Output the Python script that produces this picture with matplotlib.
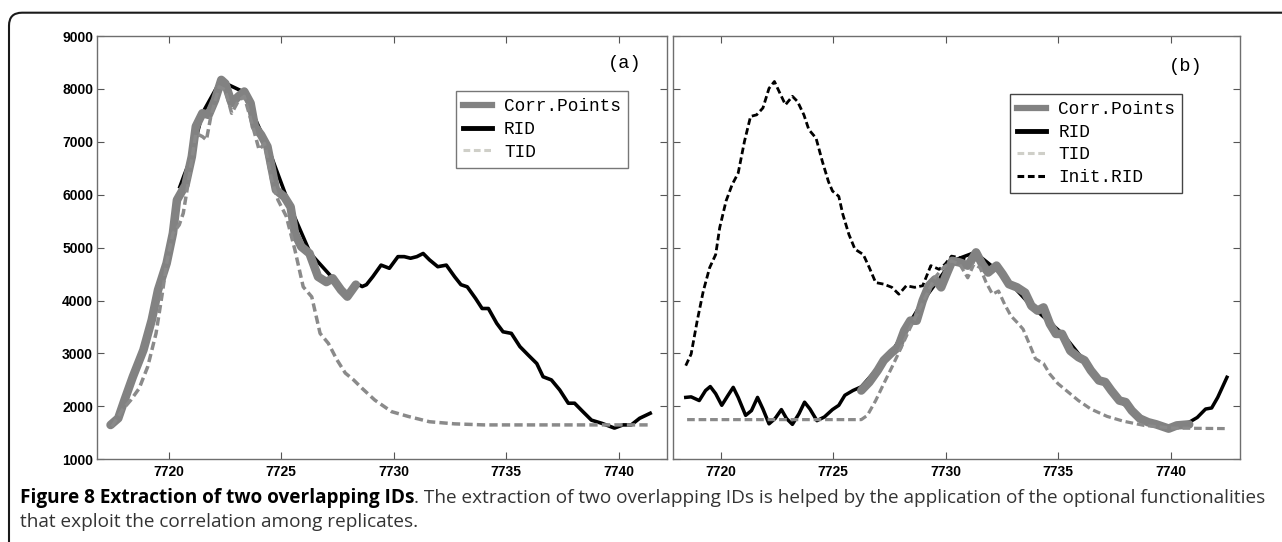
import numpy as np
import matplotlib
matplotlib.use('Agg')
import matplotlib.pyplot as plt
from matplotlib.lines import Line2D
from matplotlib.patches import FancyBboxPatch
from matplotlib.transforms import IdentityTransform


#### #### #### #### #### #### #### #### #### #### #### #### #### #### ####
#### DATA

# panel (a)
cp_a_x = [7717.42, 7717.76, 7718.04, 7718.41, 7718.88, 7719.25, 7719.53, 7719.91, 7720.19, 7720.37,
          7720.75, 7721.03, 7721.21, 7721.5, 7721.78, 7722.06, 7722.34, 7722.52, 7722.8, 7723.08,
          7723.36, 7723.64, 7723.83, 7724.11, 7724.39, 7724.77, 7725.14, 7725.42, 7725.61, 7725.89,
          7726.26, 7726.64, 7727.01, 7727.29, 7727.66, 7727.94, 7728.32]
cp_a_y = [1649, 1775, 2120, 2560, 3066, 3633, 4200, 4704, 5270, 5900,
          6185, 6720, 7290, 7540, 7510, 7790, 8170, 8100, 7730, 7850,
          7950, 7730, 7290, 7130, 6910, 6090, 5960, 5770, 5270, 5020,
          4890, 4450, 4350, 4420, 4200, 4075, 4300]

rid_a_x = [7720.5, 7720.7, 7721.0, 7721.5, 7722.3, 7723.3, 7724.4, 7725.4, 7726.3, 7727.3,
           7727.94, 7728.32, 7728.6, 7728.79, 7729.07, 7729.44, 7729.81, 7730.19, 7730.47, 7730.75,
           7731.03, 7731.31, 7731.59, 7731.96, 7732.34, 7732.71, 7732.99, 7733.27, 7733.64, 7733.93,
           7734.21, 7734.58, 7734.86, 7735.23, 7735.61, 7735.98, 7736.36, 7736.64, 7737.01, 7737.38,
           7737.76, 7738.04, 7738.41, 7738.79, 7739.25, 7739.81, 7740.19, 7740.56, 7740.93, 7741.4]
rid_a_y = [6150, 6380, 6700, 7540, 8150, 7950, 6910, 5770, 4890, 4420,
           4075, 4330, 4265, 4300, 4450, 4670, 4610, 4830, 4830, 4800,
           4830, 4890, 4770, 4640, 4670, 4450, 4300, 4260, 4040, 3850,
           3850, 3570, 3410, 3380, 3130, 2970, 2810, 2560, 2500, 2310,
           2060, 2060, 1900, 1740, 1680, 1590, 1650, 1650, 1775, 1870]

tid_a_x = [7717.48, 7717.94, 7718.32, 7718.69, 7719.07, 7719.44, 7719.72, 7719.91, 7720.19, 7720.47,
           7720.65, 7720.84, 7721.21, 7721.5, 7721.68, 7721.87, 7722.24, 7722.52, 7722.8, 7723.08,
           7723.36, 7723.74, 7724.02, 7724.26, 7724.58, 7724.86, 7725.23, 7725.61, 7725.98, 7726.36,
           7726.73, 7727.1, 7727.48, 7727.85, 7728.22, 7728.6, 7729.16, 7729.91, 7730.65, 7731.59,
           7732.71, 7734.02, 7741.4]
tid_a_y = [1620, 1930, 2120, 2340, 2750, 3380, 4140, 4700, 5270, 5430,
           5650, 6150, 7160, 7100, 7035, 7470, 8040, 7980, 7540, 7760,
           7860, 7290, 6850, 6970, 6280, 5900, 5590, 4960, 4260, 4070,
           3380, 3190, 2880, 2630, 2500, 2340, 2120, 1900, 1810, 1710,
           1670, 1650, 1650]

# panel (b)
init_b_x = [7718.45, 7718.69, 7718.96, 7719.23, 7719.51, 7719.78, 7719.96, 7720.24, 7720.51, 7720.78,
            7721.06, 7721.33, 7721.6, 7721.88, 7722.15, 7722.39, 7722.6, 7722.88, 7723.19, 7723.42,
            7723.7, 7723.92, 7724.24, 7724.52, 7724.79, 7724.97, 7725.25, 7725.43, 7725.7, 7725.97,
            7726.34, 7726.61, 7726.89, 7727.25, 7727.61, 7727.92, 7728.25, 7728.62, 7728.98, 7729.34,
            7729.71, 7729.98, 7730.26, 7730.62, 7730.98, 7731.35, 7731.71, 7732.0]
init_b_y = [2770, 2990, 3620, 4180, 4620, 4870, 5380, 5880, 6190, 6410,
            7010, 7480, 7510, 7640, 8010, 8140, 7950, 7700, 7860, 7760,
            7510, 7230, 7070, 6630, 6250, 6070, 5970, 5630, 5250, 4970,
            4870, 4620, 4340, 4310, 4250, 4120, 4280, 4250, 4280, 4660,
            4590, 4690, 4840, 4810, 4780, 4870, 4720, 4600]

rid_b_x = [7718.45, 7718.69, 7719.05, 7719.33, 7719.54, 7719.78, 7720.05, 7720.33, 7720.56, 7720.78,
           7721.11, 7721.37, 7721.64, 7721.88, 7722.15, 7722.42, 7722.7, 7722.93, 7723.19, 7723.48,
           7723.73, 7723.97, 7724.28, 7724.61, 7724.97, 7725.25, 7725.52, 7725.88, 7726.25, 7727.6,
           7729.0, 7730.3, 7731.3, 7732.5, 7733.8, 7735.2, 7736.5, 7737.7, 7739.0, 7739.9,
           7740.82, 7741.18, 7741.55, 7741.82, 7742.09, 7742.5]
rid_b_y = [2170, 2180, 2110, 2300, 2375, 2240, 2020, 2210, 2360, 2170,
           1830, 1920, 2170, 1950, 1670, 1770, 1940, 1770, 1660, 1860,
           2080, 1950, 1730, 1800, 1940, 2020, 2210, 2300, 2370, 3020,
           4000, 4750, 4910, 4500, 3900, 3370, 2680, 2110, 1700, 1580,
           1700, 1790, 1950, 1970, 2170, 2550]

cp_b_x = [7726.25, 7726.61, 7726.98, 7727.25, 7727.61, 7727.89, 7728.16, 7728.43, 7728.71, 7728.98,
          7729.25, 7729.53, 7729.8, 7730.07, 7730.29, 7730.62, 7730.98, 7731.17, 7731.35, 7731.62,
          7731.89, 7732.26, 7732.53, 7732.81, 7733.17, 7733.53, 7733.81, 7734.08, 7734.35, 7734.63,
          7734.9, 7735.17, 7735.54, 7735.9, 7736.17, 7736.45, 7736.81, 7737.09, 7737.36, 7737.72,
          7738.0, 7738.27, 7738.63, 7739.0, 7739.36, 7739.91, 7740.27, 7740.82]
cp_b_y = [2300, 2460, 2680, 2870, 3020, 3120, 3430, 3620, 3620, 4000,
          4280, 4400, 4250, 4530, 4750, 4720, 4660, 4780, 4910, 4690,
          4530, 4660, 4500, 4310, 4250, 4150, 3900, 3810, 3870, 3560,
          3370, 3370, 3050, 2930, 2870, 2680, 2490, 2460, 2300, 2110,
          2080, 1920, 1770, 1700, 1660, 1580, 1640, 1660]

tid_b_x = [7718.51, 7726.25, 7726.52, 7726.89, 7727.25, 7727.61, 7727.89, 7728.16, 7728.43, 7728.8,
           7729.16, 7729.53, 7729.89, 7730.26, 7730.62, 7730.98, 7731.26, 7731.53, 7731.8, 7732.08,
           7732.35, 7732.62, 7732.9, 7733.17, 7733.44, 7733.72, 7733.99, 7734.35, 7734.63, 7734.99,
           7735.36, 7735.9, 7736.45, 7737.18, 7737.9, 7738.82, 7740.09, 7742.5]
tid_b_y = [1750, 1750, 1830, 2110, 2430, 2740, 2990, 3240, 3490, 3800,
           4120, 4440, 4620, 4750, 4690, 4430, 4690, 4620, 4340, 4120,
           4180, 3930, 3710, 3590, 3460, 3180, 2900, 2810, 2610, 2430,
           2300, 2110, 1950, 1810, 1720, 1640, 1590, 1580]

x_ticks = [7720, 7725, 7730, 7735, 7740]
y_ticks = [1000, 2000, 3000, 4000, 5000, 6000, 7000, 8000, 9000]

caption_bold = 'Figure 8 Extraction of two overlapping IDs'
caption_rest = '. The extraction of two overlapping IDs is helped by the application of the optional functionalities'
caption_line2 = 'that exploit the correlation among replicates.'


#### #### #### #### #### #### #### #### #### #### #### #### #### #### ####
#### STYLE

plt.rcParams['font.family'] = ['Liberation Sans', 'DejaVu Sans']
plt.rcParams['xtick.direction'] = 'in'
plt.rcParams['ytick.direction'] = 'in'

c_cp = '#828282'
c_tid = '#8a8a8a'
c_tid_leg = '#cfcfc8'
mono = 'Liberation Mono'
dash = (0, (2.4, 1.2))

W, H = 1282, 542
fg = plt.figure(figsize=(W/100., H/100.), dpi=100)

# rounded frame around the whole figure
frame = FancyBboxPatch((9, -40), 1320, H - 12.7 + 40, boxstyle='round,pad=0,rounding_size=13',
                       transform=IdentityTransform(), fill=False, edgecolor='#1a1a1a', linewidth=1.5)
fg.patches.append(frame)


def setup_axes(ax, xlim, labels_y):
	ax.set_xlim(xlim)
	ax.set_ylim(1000, 9000)
	ax.set_xticks(x_ticks)
	ax.set_yticks(y_ticks)
	ax.tick_params(top=True, right=True, length=5, width=0.8, color='#555555', pad=4)
	ax.tick_params(axis='y', pad=3)
	for s in ax.spines.values():
		s.set_color('#6e6e6e')
		s.set_linewidth(1.0)
	for t in ax.get_xticklabels() + ax.get_yticklabels():
		t.set_fontweight('bold')
		t.set_fontsize(10)
	if not labels_y:
		ax.set_yticklabels([])


#### #### #### #### #### #### #### #### #### #### #### #### #### #### ####
#### PANEL (a)

ax1 = fg.add_axes([97.3/W, 1 - 459.3/H, 570./W, 423.3/H])

ax1.plot(rid_a_x, rid_a_y, color='k', linewidth=2.6, zorder=2)
ax1.plot(cp_a_x, cp_a_y, color=c_cp, linewidth=6.2, solid_capstyle='round', solid_joinstyle='round', zorder=3)
ax1.plot(tid_a_x, tid_a_y, color=c_tid, linewidth=2.5, ls=dash, zorder=4)

setup_axes(ax1, (7716.83, 7742.16), True)
ax1.text(0.926, 0.936, '(a)', transform=ax1.transAxes, family=mono, fontsize=13.5,
         ha='center', va='center')

h1 = [Line2D([], [], color=c_cp, lw=4.5),
      Line2D([], [], color='k', lw=3.5),
      Line2D([], [], color=c_tid_leg, lw=2.2, ls=(0, (2.2, 1.2)))]
leg = ax1.legend(h1, ['Corr.Points', 'RID', 'TID'], loc='upper right', bbox_to_anchor=(0.931, 0.870),
                 borderaxespad=0, fancybox=False, edgecolor='#777777', framealpha=1,
                 prop={'family': mono, 'size': 12.8}, handlelength=1.6, handletextpad=0.7,
                 labelspacing=0.32, borderpad=0.4)
leg.get_frame().set_linewidth(1.0)


#### #### #### #### #### #### #### #### #### #### #### #### #### #### ####
#### PANEL (b)

ax2 = fg.add_axes([672.7/W, 1 - 459.3/H, 567.3/W, 423.3/H])

ax2.plot(init_b_x, init_b_y, color='k', linewidth=2.0, ls=dash, zorder=2)
ax2.plot(rid_b_x, rid_b_y, color='k', linewidth=2.5, zorder=2)
ax2.plot(cp_b_x, cp_b_y, color=c_cp, linewidth=6.2, solid_capstyle='round', solid_joinstyle='round', zorder=3)
ax2.plot(tid_b_x, tid_b_y, color=c_tid, linewidth=2.3, ls=dash, zorder=4)

setup_axes(ax2, (7717.87, 7743.08), False)
ax2.text(0.905, 0.929, '(b)', transform=ax2.transAxes, family=mono, fontsize=13.5,
         ha='center', va='center')

h2 = [Line2D([], [], color=c_cp, lw=4.5),
      Line2D([], [], color='k', lw=3.5),
      Line2D([], [], color=c_tid_leg, lw=2.2, ls=(0, (2.2, 1.2))),
      Line2D([], [], color='k', lw=2.2, ls=(0, (2.2, 1.2)))]
leg = ax2.legend(h2, ['Corr.Points', 'RID', 'TID', 'Init.RID'], loc='upper right',
                 bbox_to_anchor=(0.898, 0.863), borderaxespad=0, fancybox=False,
                 edgecolor='#444444', framealpha=1, prop={'family': mono, 'size': 12.8},
                 handlelength=1.6, handletextpad=0.7, labelspacing=0.32, borderpad=0.4)
leg.get_frame().set_linewidth(1.0)


#### #### #### #### #### #### #### #### #### #### #### #### #### #### ####
#### CAPTION

cap_size = 13.7
t1 = fg.text(20./W, 1 - 503./H, caption_bold, family='Open Sans', fontweight='bold',
             fontsize=cap_size, va='baseline', ha='left', color='k')
fg.canvas.draw()
bb = t1.get_window_extent()
fg.text(bb.x1/W, 1 - 503./H, caption_rest, family='Open Sans', fontsize=cap_size,
        va='baseline', ha='left', color='#333333')
fg.text(20./W, 1 - 527./H, caption_line2, family='Open Sans', fontsize=cap_size,
        va='baseline', ha='left', color='#333333')

plt.savefig('out.png', dpi=100)
